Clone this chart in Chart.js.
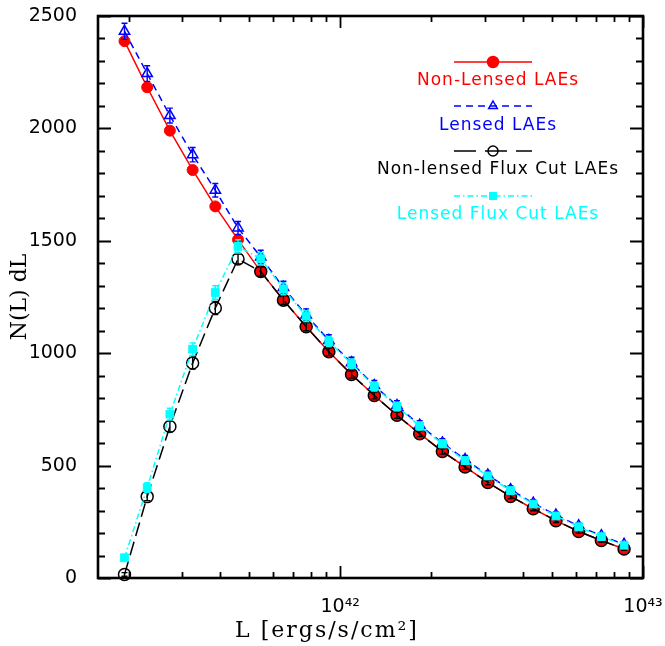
<!DOCTYPE html>
<html>
<head>
<meta charset="utf-8">
<title>N(L) dL</title>
<script src="https://cdn.jsdelivr.net/npm/chart.js@4.4.1/dist/chart.umd.min.js"></script>
<style>
    html, body { margin: 0; padding: 0; background: #fff; }
    #chart { display: block; }
</style>
</head>
<body>
<canvas id="chart" width="665" height="646"></canvas>
<script>
// Centros de los bins de luminosidad (ergs/s/cm^2)
const luminosity = [
    1.939e41, 2.304e41, 2.738e41, 3.255e41, 3.868e41, 4.597e41, 5.464e41, 6.494e41,
    7.718e41, 9.173e41, 1.090e42, 1.296e42, 1.540e42, 1.830e42, 2.175e42, 2.585e42,
    3.073e42, 3.652e42, 4.340e42, 5.158e42, 6.131e42, 7.286e42, 8.660e42
];

const nonLensed = [
    2388, 2183, 1990, 1815, 1653, 1505, 1363, 1236, 1118, 1006, 905, 812,
    724, 642, 563, 494, 425, 363, 308, 255, 207, 167, 129
];

const lensed = [
    2432, 2244, 2057, 1883, 1725, 1557, 1428, 1292, 1170, 1057, 958, 856,
    767, 680, 601, 527, 458, 393, 333, 280, 232, 188, 150
];
const lensedErr = [
    36, 35, 33, 32, 30, 29, 30, 28, 27, 25, 24, 23,
    22, 20, 19, 18, 17, 16, 15, 14, 13, 12, 11
];

const nonLensedCut = [
    16, 362, 674, 956, 1201, 1419, 1363, 1236, 1118, 1006, 905, 812,
    724, 642, 563, 494, 425, 363, 308, 255, 207, 167, 129
];
const nonLensedCutErr = [
    8, 18, 24, 27, 29, 22, 20, 19, 18, 17, 16, 15,
    14, 13, 12, 11, 10, 10, 9, 8, 8, 7, 6
];

const lensedCut = [
    90, 402, 729, 1018, 1270, 1475, 1420, 1286, 1165, 1052, 953, 852,
    763, 676, 597, 522, 454, 389, 329, 276, 228, 184, 146
];
const lensedCutErr = [
    10, 22, 26, 28, 30, 30, 28, 26, 24, 22, 21, 20,
    19, 18, 17, 16, 15, 14, 13, 12, 11, 10, 9
];

// Ejes
const xMin = 1.585e41;
const xMax = 1e43;
const xTickValues = [1e42, 1e43];
const xTickLabels = ['10⁴²', '10⁴³'];
const yMin = 0;
const yMax = 2500;
const yMajorStep = 500;
const yMinorStep = 100;

const COLORS = {
    red: '#ff0000',
    blue: '#0000ff',
    black: '#000000',
    cyan: '#00ffff'
};

// Leyenda (texto y estilo de cada serie)
const legendItems = [
    { text: 'Non-Lensed LAEs', color: COLORS.red, dash: [], marker: 'circle', filled: true, r: 5.5 },
    { text: 'Lensed LAEs', color: COLORS.blue, dash: [7, 5], marker: 'triangle', filled: false, r: 5 },
    { text: 'Non-lensed Flux Cut LAEs', color: COLORS.black, dash: [22, 9], marker: 'circle', filled: false, r: 5 },
    { text: 'Lensed Flux Cut LAEs', color: COLORS.cyan, dash: [6, 3, 1.5, 3], marker: 'rect', filled: true, r: 4.5 }
];

function toPoints(values) {
    return values.map((v, i) => ({ x: luminosity[i], y: v }));
}

/**
 * Dibuja un marcador simple (para la leyenda)
 */
function drawMarker(ctx, style, x, y, r, color, filled) {
    ctx.save();
    ctx.setLineDash([]);
    ctx.beginPath();
    if (style === 'circle') {
        ctx.arc(x, y, r, 0, Math.PI * 2);
    } else if (style === 'triangle') {
        ctx.moveTo(x, y - r);
        ctx.lineTo(x + r * 0.866, y + r * 0.5);
        ctx.lineTo(x - r * 0.866, y + r * 0.5);
        ctx.closePath();
    } else {
        const s = r * Math.SQRT1_2;
        ctx.rect(x - s, y - s, 2 * s, 2 * s);
    }
    if (filled) {
        ctx.fillStyle = color;
        ctx.fill();
    }
    ctx.strokeStyle = color;
    ctx.lineWidth = 1.5;
    ctx.stroke();
    ctx.restore();
}

/**
 * Barras de error verticales, dibujadas justo después de cada serie
 */
const errorBars = {
    id: 'errorBars',
    afterDatasetDraw(chart, args) {
        const ds = chart.data.datasets[args.index];
        if (!ds.errors) return;
        const ctx = chart.ctx;
        const yScale = chart.scales.y;
        ctx.save();
        ctx.strokeStyle = ds.borderColor;
        ctx.lineWidth = 1.4;
        ctx.setLineDash([]);
        args.meta.data.forEach((pt, i) => {
            const v = ds.data[i].y;
            const e = ds.errors[i];
            const top = yScale.getPixelForValue(v + e);
            const bot = yScale.getPixelForValue(Math.max(v - e, 0));
            ctx.beginPath();
            ctx.moveTo(pt.x, bot);
            ctx.lineTo(pt.x, top);
            ctx.moveTo(pt.x - 3, top);
            ctx.lineTo(pt.x + 3, top);
            ctx.moveTo(pt.x - 3, bot);
            ctx.lineTo(pt.x + 3, bot);
            ctx.stroke();
        });
        ctx.restore();
    }
};

/**
 * Marco del gráfico con marcas mayores y menores hacia dentro en los cuatro lados
 */
const frameTicks = {
    id: 'frameTicks',
    afterDraw(chart) {
        const ctx = chart.ctx;
        const area = chart.chartArea;
        const xs = chart.scales.x;
        const ys = chart.scales.y;
        ctx.save();
        ctx.strokeStyle = '#000';
        ctx.setLineDash([]);

        ctx.lineWidth = 1.8;
        ctx.beginPath();
        for (let v = yMin; v <= yMax; v += yMinorStep) {
            const y = Math.round(ys.getPixelForValue(v)) + 0.5;
            const len = v % yMajorStep === 0 ? 13 : 7;
            ctx.moveTo(area.left, y);
            ctx.lineTo(area.left + len, y);
            ctx.moveTo(area.right, y);
            ctx.lineTo(area.right - len, y);
        }
        for (let exp = 41; exp <= 43; exp++) {
            for (let m = 1; m <= 9; m++) {
                const v = m * Math.pow(10, exp);
                if (v < xMin || v > xMax * 1.0001) continue;
                const x = Math.round(xs.getPixelForValue(v)) + 0.5;
                const len = m === 1 ? 12 : 6;
                ctx.moveTo(x, area.bottom);
                ctx.lineTo(x, area.bottom - len);
                ctx.moveTo(x, area.top);
                ctx.lineTo(x, area.top + len);
            }
        }
        ctx.stroke();

        ctx.lineWidth = 2.6;
        ctx.strokeRect(area.left, area.top, area.right - area.left, area.bottom - area.top);
        ctx.restore();
    }
};

/**
 * Leyenda interna y títulos de los ejes
 */
const legendAndTitles = {
    id: 'legendAndTitles',
    afterDraw(chart) {
        const ctx = chart.ctx;
        const area = chart.chartArea;
        const lineY = [62, 106, 151, 196];
        const textY = [85, 130, 174, 219];
        const x0 = area.right - 189;
        const x1 = area.right - 111;
        const xm = area.right - 150;
        const xt = area.right - 145;

        ctx.save();
        legendItems.forEach((item, i) => {
            ctx.save();
            ctx.beginPath();
            ctx.rect(x0, lineY[i] - 5, x1 - x0, 10);
            ctx.clip();
            ctx.strokeStyle = item.color;
            ctx.lineWidth = 1.5;
            ctx.setLineDash(item.dash);
            ctx.beginPath();
            ctx.moveTo(x0, lineY[i]);
            ctx.lineTo(x1, lineY[i]);
            ctx.stroke();
            ctx.restore();
            drawMarker(ctx, item.marker, xm, lineY[i], item.r, item.color, item.filled);

            ctx.fillStyle = item.color;
            ctx.font = '17px "DejaVu Sans"';
            ctx.letterSpacing = '1px';
            ctx.textAlign = 'center';
            ctx.textBaseline = 'alphabetic';
            ctx.fillText(item.text, xt, textY[i]);
        });

        // Título eje X
        ctx.fillStyle = '#000';
        ctx.font = '22px "DejaVu Serif"';
        ctx.letterSpacing = '2px';
        ctx.textAlign = 'center';
        ctx.textBaseline = 'middle';
        ctx.fillText('L [ergs/s/cm²]', 327, 631);

        // Título eje Y
        ctx.letterSpacing = '0px';
        ctx.translate(20, (area.top + area.bottom) / 2);
        ctx.rotate(-Math.PI / 2);
        ctx.fillText('N(L) dL', 0, 0);
        ctx.restore();
    }
};

const ctx = document.getElementById('chart');

new Chart(ctx.getContext('2d'), {
    type: 'line',
    data: {
        datasets: [
            {
                label: 'Non-Lensed LAEs',
                data: toPoints(nonLensed),
                borderColor: COLORS.red,
                backgroundColor: COLORS.red,
                borderWidth: 1.5,
                pointStyle: 'circle',
                pointRadius: 5.5,
                pointBorderWidth: 1,
                order: 4
            },
            {
                label: 'Lensed LAEs',
                data: toPoints(lensed),
                errors: lensedErr,
                borderColor: COLORS.blue,
                backgroundColor: 'rgba(0,0,0,0)',
                borderWidth: 1.5,
                borderDash: [7, 5],
                pointStyle: 'triangle',
                pointRadius: 6,
                pointBorderWidth: 1.5,
                order: 3
            },
            {
                label: 'Non-lensed Flux Cut LAEs',
                data: toPoints(nonLensedCut),
                errors: nonLensedCutErr,
                borderColor: COLORS.black,
                backgroundColor: 'rgba(0,0,0,0)',
                borderWidth: 1.5,
                borderDash: [14, 6],
                pointStyle: 'circle',
                pointRadius: 6,
                pointBorderWidth: 1.5,
                order: 2
            },
            {
                label: 'Lensed Flux Cut LAEs',
                data: toPoints(lensedCut),
                errors: lensedCutErr,
                borderColor: COLORS.cyan,
                backgroundColor: COLORS.cyan,
                borderWidth: 1.5,
                borderDash: [6, 3, 1.5, 3],
                pointStyle: 'rect',
                pointRadius: 5.5,
                pointBorderWidth: 1,
                order: 1
            }
        ]
    },
    options: {
        responsive: false,
        animation: false,
        clip: false,
        layout: {
            padding: { left: 0, top: 16, right: 22, bottom: 0 }
        },
        elements: {
            line: { tension: 0, fill: false }
        },
        plugins: {
            legend: { display: false },
            tooltip: { enabled: false }
        },
        scales: {
            x: {
                type: 'logarithmic',
                min: xMin,
                max: xMax,
                grid: { display: false },
                border: { display: false },
                afterBuildTicks: (scale) => {
                    scale.ticks = xTickValues.map(v => ({ value: v }));
                },
                afterFit: (scale) => {
                    scale.height = 68;
                    scale.paddingLeft = 0;
                    scale.paddingRight = 0;
                },
                ticks: {
                    autoSkip: false,
                    maxRotation: 0,
                    padding: 10,
                    color: '#000',
                    font: { family: 'DejaVu Sans', size: 19 },
                    callback: function(value) {
                        const i = xTickValues.indexOf(value);
                        return i >= 0 ? xTickLabels[i] : '';
                    }
                }
            },
            y: {
                min: yMin,
                max: yMax,
                grid: { display: false },
                border: { display: false },
                afterFit: (scale) => {
                    scale.width = 98;
                    scale.paddingTop = 0;
                    scale.paddingBottom = 0;
                },
                ticks: {
                    stepSize: yMajorStep,
                    padding: 13,
                    color: '#000',
                    font: { family: 'DejaVu Sans', size: 19 },
                    callback: function(value) {
                        return String(value);
                    }
                }
            }
        }
    },
    plugins: [errorBars, frameTicks, legendAndTitles]
});
</script>
</body>
</html>
